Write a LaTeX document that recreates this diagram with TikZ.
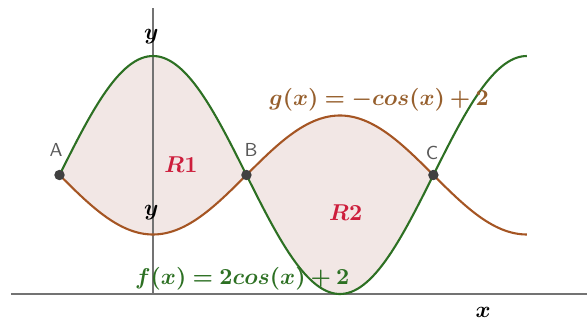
\documentclass[tikz,border=0pt]{standalone}
\usepackage{amsmath,bm}
\definecolor{verdef}{RGB}{45,112,35}
\definecolor{marrong}{RGB}{165,85,35}
\definecolor{textog}{RGB}{150,95,45}
\definecolor{relleno}{RGB}{242,231,229}
\definecolor{rojoR}{RGB}{205,30,60}
\begin{document}
\begin{tikzpicture}[x=1cm, y=1cm,
    punto/.style={circle, fill=black!75, inner sep=0pt, minimum size=5pt},
    etiq/.style={font=\sffamily\small, text=black!65},
    mate/.style={font=\fontsize{11}{13}\selectfont},
    region/.style={mate, text=rojoR}]
    \useasboundingbox (-2.571,-0.437) rectangle (7.294,4.941);
    % Regiones entre f y g
    \fill[relleno]
        plot[domain=-pi/2:3*pi/2, samples=120] (\x,{2*cos(\x r)+2}) --
        plot[domain=3*pi/2:-pi/2, samples=120] (\x,{-cos(\x r)+2}) -- cycle;
    % Ejes
    \draw[black!55, line width=0.5pt] (-2.39,0) -- (7.294,0);
    \draw[black!55, line width=0.5pt] (0,0) -- (0,4.81);
    % g(x) = -cos(x) + 2
    \draw[marrong, line width=1pt]
        plot[domain=-pi/2:2*pi, samples=150] (\x,{-cos(\x r)+2});
    % f(x) = 2cos(x) + 2
    \draw[verdef, line width=1pt]
        plot[domain=-pi/2:2*pi, samples=150] (\x,{2*cos(\x r)+2});
    % Puntos de corte
    \node[punto] (A) at ({-pi/2},2) {};
    \node[punto] (B) at ({pi/2},2) {};
    \node[punto] (C) at ({3*pi/2},2) {};
    \node[etiq] (lA) at (-1.63,2.42) {A};
    \node[etiq] (lB) at (1.65,2.42) {B};
    \node[etiq] (lC) at (4.69,2.37) {C};
    % Etiquetas
    \node[mate] (y1) at (-0.03,4.32) {$\bm{y}$};
    \node[mate] (y2) at (-0.03,1.36) {$\bm{y}$};
    \node[mate, inner sep=1pt] (ex) at (5.55,-0.31) {$\bm{x}$};
    \node[region] (R1) at (0.47,2.17) {$\bm{R1}$};
    \node[region] (R2) at (3.24,1.36) {$\bm{R2}$};
    \node[mate, text=textog] (gx) at (3.80,3.26) {$\bm{g(x) = -cos(x) + 2}$};
    \node[mate, text=verdef] (fx) at (1.50,0.26) {$\bm{f(x) = 2cos(x) + 2}$};
\end{tikzpicture}
\end{document}
